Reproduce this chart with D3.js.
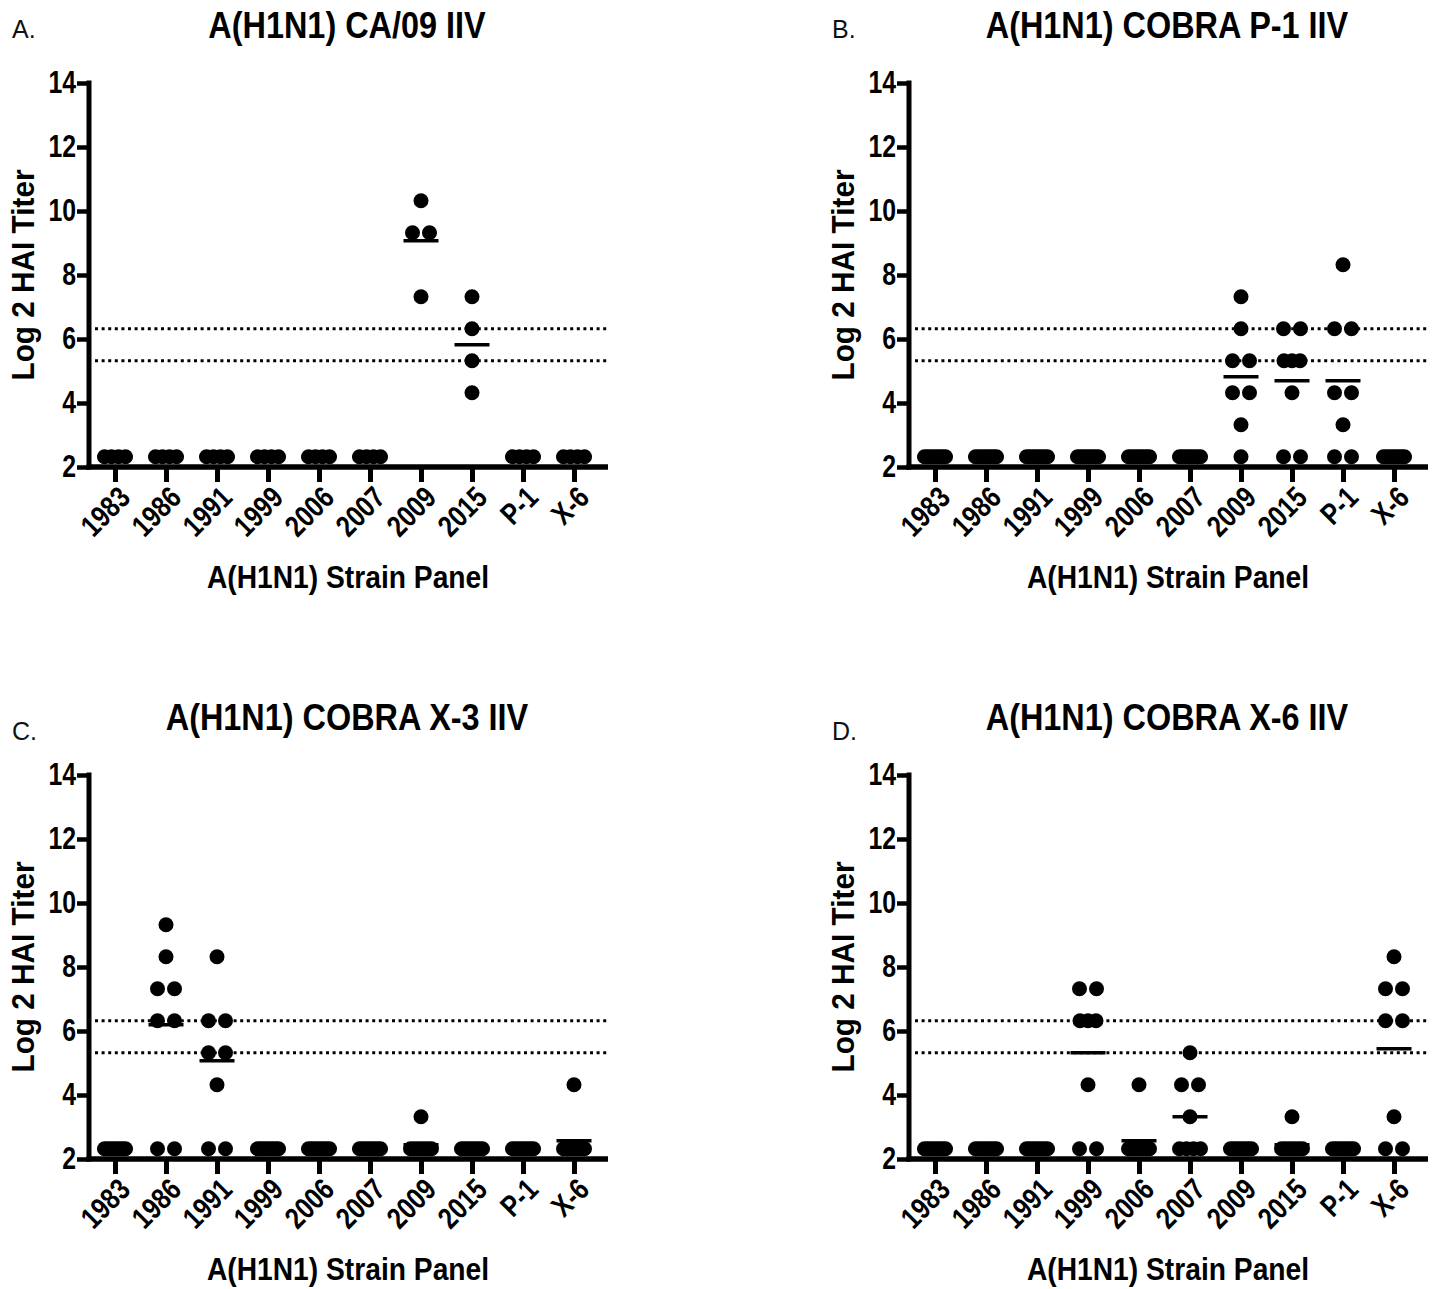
<!DOCTYPE html>
<html>
<head>
<meta charset="utf-8">
<script src="https://cdn.jsdelivr.net/npm/d3@7"></script>
<style>
  body { margin: 0; background: #fff; }
</style>
</head>
<body>
<div class="canvas"></div>
<script>
// categories and tick labels
const categories = ['1983', '1986', '1991', '1999', '2006', '2007', '2009', '2015', 'P-1', 'X-6'];
const yTicks = [2, 4, 6, 8, 10, 12, 14];
const thresholds = [5.32, 6.32];

const panelLetters = ['A.', 'B.', 'C.', 'D.'];
const panelTitles = ['A(H1N1) CA/09 IIV', 'A(H1N1) COBRA P-1 IIV', 'A(H1N1) COBRA X-3 IIV', 'A(H1N1) COBRA X-6 IIV'];

// log2 HAI titers, one array per strain (same order as categories)
const panelA = [
    [2.32, 2.32, 2.32, 2.32],
    [2.32, 2.32, 2.32, 2.32],
    [2.32, 2.32, 2.32, 2.32],
    [2.32, 2.32, 2.32, 2.32],
    [2.32, 2.32, 2.32, 2.32],
    [2.32, 2.32, 2.32, 2.32],
    [10.32, 9.32, 9.32, 7.32],
    [7.32, 6.32, 5.32, 4.32],
    [2.32, 2.32, 2.32, 2.32],
    [2.32, 2.32, 2.32, 2.32]
];

const panelB = [
    [2.32, 2.32, 2.32, 2.32, 2.32, 2.32, 2.32, 2.32],
    [2.32, 2.32, 2.32, 2.32, 2.32, 2.32, 2.32, 2.32],
    [2.32, 2.32, 2.32, 2.32, 2.32, 2.32, 2.32, 2.32],
    [2.32, 2.32, 2.32, 2.32, 2.32, 2.32, 2.32, 2.32],
    [2.32, 2.32, 2.32, 2.32, 2.32, 2.32, 2.32, 2.32],
    [2.32, 2.32, 2.32, 2.32, 2.32, 2.32, 2.32, 2.32],
    [7.32, 6.32, 5.32, 5.32, 4.32, 4.32, 3.32, 2.32],
    [6.32, 6.32, 5.32, 5.32, 5.32, 4.32, 2.32, 2.32],
    [8.32, 6.32, 6.32, 4.32, 4.32, 3.32, 2.32, 2.32],
    [2.32, 2.32, 2.32, 2.32, 2.32, 2.32, 2.32, 2.32]
];

const panelC = [
    [2.32, 2.32, 2.32, 2.32, 2.32, 2.32, 2.32, 2.32],
    [9.32, 8.32, 7.32, 7.32, 6.32, 6.32, 2.32, 2.32],
    [8.32, 6.32, 6.32, 5.32, 5.32, 4.32, 2.32, 2.32],
    [2.32, 2.32, 2.32, 2.32, 2.32, 2.32, 2.32, 2.32],
    [2.32, 2.32, 2.32, 2.32, 2.32, 2.32, 2.32, 2.32],
    [2.32, 2.32, 2.32, 2.32, 2.32, 2.32, 2.32, 2.32],
    [3.32, 2.32, 2.32, 2.32, 2.32, 2.32, 2.32, 2.32],
    [2.32, 2.32, 2.32, 2.32, 2.32, 2.32, 2.32, 2.32],
    [2.32, 2.32, 2.32, 2.32, 2.32, 2.32, 2.32, 2.32],
    [4.32, 2.32, 2.32, 2.32, 2.32, 2.32, 2.32, 2.32]
];

const panelD = [
    [2.32, 2.32, 2.32, 2.32, 2.32, 2.32, 2.32, 2.32],
    [2.32, 2.32, 2.32, 2.32, 2.32, 2.32, 2.32, 2.32],
    [2.32, 2.32, 2.32, 2.32, 2.32, 2.32, 2.32, 2.32],
    [7.32, 7.32, 6.32, 6.32, 6.32, 4.32, 2.32, 2.32],
    [4.32, 2.32, 2.32, 2.32, 2.32, 2.32, 2.32, 2.32],
    [5.32, 4.32, 4.32, 3.32, 2.32, 2.32, 2.32, 2.32],
    [2.32, 2.32, 2.32, 2.32, 2.32, 2.32, 2.32, 2.32],
    [3.32, 2.32, 2.32, 2.32, 2.32, 2.32, 2.32, 2.32],
    [2.32, 2.32, 2.32, 2.32, 2.32, 2.32, 2.32, 2.32],
    [8.32, 7.32, 7.32, 6.32, 6.32, 3.32, 2.32, 2.32]
];

const panels = [panelA, panelB, panelC, panelD];

// svg container
const svg = d3.select('.canvas')
    .append('svg')
    .attr('width', 1437)
    .attr('height', 1289);

const font = '"Liberation Sans", Arial, Helvetica, sans-serif';

// plot frame (panel local coords)
const axisX = 89;
const xEnd = 608;
const yTop = 83;
const yBottom = 467;

const xScale = d3.scalePoint()
    .domain(categories)
    .range([115, 574]);

const yScale = d3.scaleLinear()
    .domain([2, 14])
    .range([yBottom, yTop]);

// make text narrower, like the condensed font of the original
function squeeze(sel, k) {
    sel.each(function () {
        const w = this.getComputedTextLength();
        d3.select(this)
            .attr('textLength', w * k)
            .attr('lengthAdjust', 'spacingAndGlyphs');
    });
}

// spread equal values side by side, like a column scatter
function spread(values) {
    const counts = d3.group(values.map((v, i) => ({ v, i })), d => d.v);
    const out = [];
    counts.forEach(list => {
        const n = list.length;
        const step = n === 1 ? 0 : n === 2 ? 17 : Math.min(8, 21 / (n - 1));
        list.forEach((d, j) => out.push({ value: d.v, dx: (j - (n - 1) / 2) * step }));
    });
    return out;
}

const offsets = [[0, 0], [820, 0], [0, 692], [820, 692]];

panels.forEach((data, p) => {
    const g = svg.append('g')
        .attr('transform', `translate(${offsets[p][0]}, ${offsets[p][1]})`);

    // panel letter
    g.append('text')
        .attr('x', 12)
        .attr('y', p < 2 ? 38 : 48)
        .attr('font-family', font)
        .attr('font-size', 25)
        .attr('fill', '#111')
        .text(panelLetters[p]);

    // title
    g.append('text')
        .attr('x', 347)
        .attr('y', 38)
        .attr('text-anchor', 'middle')
        .attr('font-family', font)
        .attr('font-weight', 'bold')
        .attr('font-size', 36)
        .text(panelTitles[p])
        .call(squeeze, 0.9);

    // y axis
    const yAxis = g.append('g')
        .attr('transform', `translate(${axisX}, 0)`)
        .call(d3.axisLeft(yScale).tickValues(yTicks).tickSize(12).tickSizeOuter(0).tickPadding(1));
    yAxis.select('.domain').remove();
    yAxis.append('line')
        .attr('x1', 0).attr('x2', 0)
        .attr('y1', yScale(14) - 2.5).attr('y2', yScale(2) + 2.5)
        .attr('stroke', '#000').attr('stroke-width', 5);
    yAxis.selectAll('.tick line').attr('stroke-width', 4.5);
    yAxis.selectAll('.tick text')
        .attr('font-family', font)
        .attr('font-weight', 'bold')
        .attr('font-size', 31)
        .attr('fill', '#000')
        .call(squeeze, 0.8);

    // x axis
    const xAxis = g.append('g')
        .attr('transform', `translate(0, ${yBottom})`)
        .call(d3.axisBottom(xScale).tickSize(15).tickSizeOuter(0));
    xAxis.select('.domain').remove();
    xAxis.append('line')
        .attr('x1', axisX - 2.5).attr('x2', xEnd)
        .attr('y1', 0).attr('y2', 0)
        .attr('stroke', '#000').attr('stroke-width', 5.5);
    xAxis.selectAll('.tick line').attr('stroke-width', 5);
    xAxis.selectAll('.tick text')
        .attr('font-family', font)
        .attr('font-weight', 'bold')
        .attr('font-size', 30)
        .attr('fill', '#000')
        .attr('text-anchor', 'end')
        .attr('x', 0).attr('y', 0)
        .attr('dy', '0.35em')
        .attr('transform', 'translate(9, 25) rotate(-45)')
        .call(squeeze, 0.82);

    // axis titles
    g.append('text')
        .attr('x', 348)
        .attr('y', 588)
        .attr('text-anchor', 'middle')
        .attr('font-family', font)
        .attr('font-weight', 'bold')
        .attr('font-size', 31)
        .text('A(H1N1) Strain Panel')
        .call(squeeze, 0.91);

    g.append('text')
        .attr('transform', `translate(34, ${(yTop + yBottom) / 2}) rotate(-90)`)
        .attr('text-anchor', 'middle')
        .attr('font-family', font)
        .attr('font-weight', 'bold')
        .attr('font-size', 31)
        .text('Log 2 HAI Titer')
        .call(squeeze, 0.96);

    // dotted threshold lines
    g.selectAll('line.threshold')
        .data(thresholds)
        .enter()
        .append('line')
        .attr('class', 'threshold')
        .attr('x1', axisX + 6)
        .attr('x2', xEnd)
        .attr('y1', d => yScale(d))
        .attr('y2', d => yScale(d))
        .attr('stroke', '#000')
        .attr('stroke-width', 3)
        .attr('stroke-dasharray', '3,3.6');

    // dots
    data.forEach((values, c) => {
        const cx = xScale(categories[c]);
        g.selectAll(null)
            .data(spread(values))
            .enter()
            .append('circle')
            .attr('cx', d => cx + d.dx)
            .attr('cy', d => yScale(d.value))
            .attr('r', 7.5)
            .attr('fill', '#000');
    });

    // group means
    g.selectAll('line.mean')
        .data(data)
        .enter()
        .append('line')
        .attr('class', 'mean')
        .attr('x1', (d, c) => xScale(categories[c]) - 17.5)
        .attr('x2', (d, c) => xScale(categories[c]) + 17.5)
        .attr('y1', d => yScale(d3.mean(d)))
        .attr('y2', d => yScale(d3.mean(d)))
        .attr('stroke', '#000')
        .attr('stroke-width', 3.5);
});
</script>
</body>
</html>
